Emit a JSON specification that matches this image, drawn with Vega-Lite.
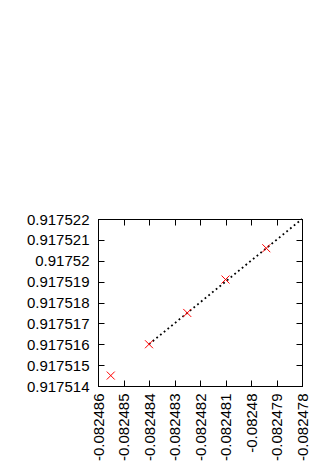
{
  "$schema": "https://vega.github.io/schema/vega-lite/v6.json",
  "autosize": "none",
  "width": 204,
  "height": 167,
  "padding": {"left": 98, "top": 219, "right": 25, "bottom": 82},
  "config": {
    "locale": {"number": {"decimal": ".", "thousands": ",", "grouping": [3], "currency": ["$", ""], "minus": "-"}},
    "view": {"stroke": "black", "strokeWidth": 1},
    "axis": {
      "grid": false,
      "title": null,
      "domainColor": "black",
      "tickColor": "black",
      "labelColor": "black",
      "labelFont": "Liberation Sans",
      "labelFontSize": 15,
      "tickSize": -6,
      "labelPadding": 15,
      "domainWidth": 1,
      "tickWidth": 1
    }
  },
  "layer": [
    {
      "data": {"values": [
        {"x": -0.082484, "y": 0.917516},
        {"x": -0.082478, "y": 0.917522}
      ]},
      "mark": {"type": "line", "color": "black", "strokeWidth": 1.8, "strokeDash": [1.8, 3]},
      "encoding": {
        "x": {"field": "x", "type": "quantitative", "scale": {"domain": [-0.082486, -0.082478], "zero": false, "nice": false},
          "axis": {"orient": "bottom", "values": [-0.082486, -0.082485, -0.082484, -0.082483, -0.082482, -0.082481, -0.08248, -0.082479, -0.082478], "format": ".6~g", "labelAngle": -90, "labelAlign": "right", "labelBaseline": "middle", "labelPadding": 13}},
        "y": {"field": "y", "type": "quantitative", "scale": {"domain": [0.917514, 0.917522], "zero": false, "nice": false},
          "axis": {"orient": "left", "values": [0.917514, 0.917515, 0.917516, 0.917517, 0.917518, 0.917519, 0.91752, 0.917521, 0.917522], "format": ".6~g"}}
      }
    },
    {
      "data": {"values": [
        {"x": -0.0824855, "y": 0.9175145},
        {"x": -0.082484, "y": 0.917516},
        {"x": -0.0824825, "y": 0.9175175},
        {"x": -0.0824810, "y": 0.9175191},
        {"x": -0.0824794, "y": 0.9175206}
      ]},
      "mark": {"type": "point", "shape": "M-1,-1L1,1M1,-1L-1,1", "size": 64, "filled": false, "stroke": "#ff0000", "strokeWidth": 1, "opacity": 1},
      "encoding": {
        "x": {"field": "x", "type": "quantitative",
          "axis": {"orient": "top", "labels": false, "values": [-0.082486, -0.082485, -0.082484, -0.082483, -0.082482, -0.082481, -0.08248, -0.082479, -0.082478]}},
        "y": {"field": "y", "type": "quantitative",
          "axis": {"orient": "right", "labels": false, "values": [0.917514, 0.917515, 0.917516, 0.917517, 0.917518, 0.917519, 0.91752, 0.917521, 0.917522]}}
      }
    }
  ],
  "resolve": {"axis": {"x": "independent", "y": "independent"}}
}
